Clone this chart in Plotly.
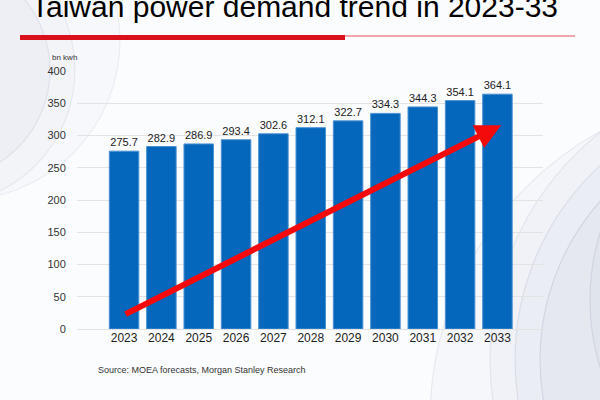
import plotly.graph_objects as go

# data
years = [2023, 2024, 2025, 2026, 2027, 2028, 2029, 2030, 2031, 2032, 2033]
demand = [275.7, 282.9, 286.9, 293.4, 302.6, 312.1, 322.7, 334.3, 344.3, 354.1, 364.1]
year_labels = [str(y) for y in years]
y_ticks = [0, 50, 100, 150, 200, 250, 300, 350, 400]

W, H = 600, 400
L, R, T, B = 77, 57, 71, 71
PW, PH = W - L - R, H - T - B


# pixel -> paper helpers for the decorations
def px(x):
    return (x - L) / PW


def py(y):
    return (H - B - y) / PH


fig = go.Figure()

fig.add_trace(go.Bar(
    x=years,
    y=demand,
    width=0.79,
    marker=dict(color='#0467bb', line=dict(color='#4c91d2', width=1)),
    texttemplate='%{y:.1f}',
    textposition='outside',
    textfont=dict(size=11, color='#222222'),
    cliponaxis=False,
    showlegend=False,
    hoverinfo='skip'
))

# red trend arrow
fig.add_annotation(
    x=2033.1, y=316, ax=2023, ay=22,
    xref='x', yref='y', axref='x', ayref='y',
    showarrow=True, arrowhead=2, arrowsize=0.85, arrowwidth=6,
    arrowcolor='#f40a0a', text=''
)

# title, header lines and notes
fig.add_annotation(
    x=px(29), y=py(25), xref='paper', yref='paper',
    xanchor='left', yanchor='bottom', showarrow=False,
    text='Taiwan power demand trend in 2023-33',
    font=dict(size=30, color='#000000')
)
fig.add_annotation(
    x=px(50), y=py(58), xref='paper', yref='paper',
    xanchor='left', yanchor='middle', showarrow=False,
    text='bn kwh', font=dict(size=8, color='#333333')
)
fig.add_annotation(
    x=px(96), y=py(370), xref='paper', yref='paper',
    xanchor='left', yanchor='middle', showarrow=False,
    text='Source: MOEA forecasts, Morgan Stanley Research',
    font=dict(size=9, color='#333333')
)

shapes = [
    dict(type='line', xref='paper', yref='paper', x0=px(20), x1=px(345),
         y0=py(37.5), y1=py(37.5), line=dict(color='#d9111b', width=5)),
    dict(type='line', xref='paper', yref='paper', x0=px(345), x1=px(575),
         y0=py(36), y1=py(36), line=dict(color='#f2a6ac', width=2)),
]

# faint swirl in the background
for cx, cy, r, a in [(780, 360, 240, 0.07), (780, 360, 265, 0.06), (780, 360, 290, 0.05),
                     (760, 420, 330, 0.05), (820, 300, 230, 0.06),
                     (-60, 70, 110, 0.05), (-60, 70, 135, 0.04), (-40, 40, 160, 0.04)]:
    shapes.append(dict(type='circle', xref='paper', yref='paper', layer='below',
                       x0=px(cx - r), x1=px(cx + r), y0=py(cy + r), y1=py(cy - r),
                       line=dict(color='rgba(120,140,170,%.2f)' % (a * 3), width=1.2),
                       fillcolor='rgba(150,165,190,%.2f)' % a))

fig.update_layout(
    width=W, height=H,
    margin=dict(l=L, r=R, t=T, b=B),
    paper_bgcolor='#fbfcfe',
    plot_bgcolor='rgba(0,0,0,0)',
    font=dict(family='Liberation Sans, Arial, sans-serif', color='#222222'),
    shapes=shapes,
    xaxis=dict(
        range=[2021.74, 2034.22],
        tickvals=years, ticktext=year_labels,
        tickfont=dict(size=12, color='#222222'),
        showgrid=False, zeroline=False, showline=False,
        fixedrange=True
    ),
    yaxis=dict(
        range=[0, 400], tickvals=y_ticks,
        tickfont=dict(size=11, color='#333333'),
        gridcolor='#e3e3e3', gridwidth=1,
        zeroline=True, zerolinecolor='#e3e3e3', zerolinewidth=1,
        ticks='outside', ticklen=8, tickcolor='rgba(0,0,0,0)',
        fixedrange=True
    ),
    bargap=0.21
)

# drop the page's default body margin so the figure sits at the corner
fig.write_html('out.html', config={'displayModeBar': False},
               post_script="document.body.style.margin='0';")
